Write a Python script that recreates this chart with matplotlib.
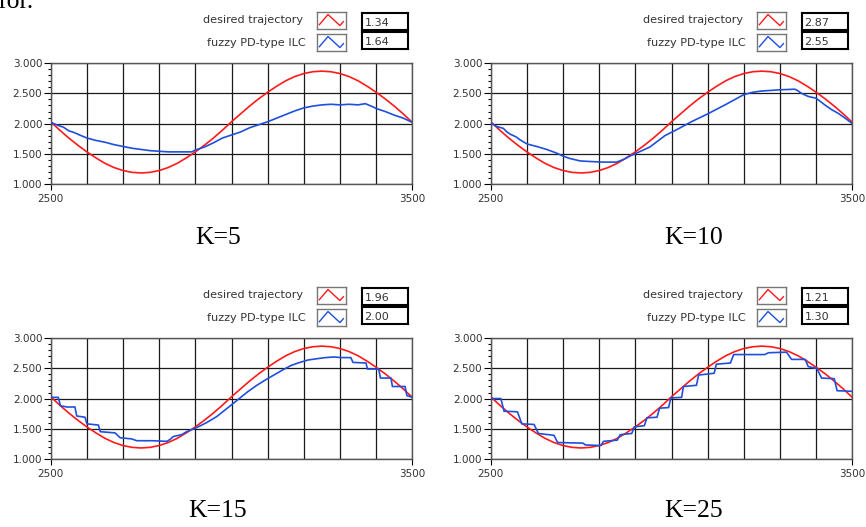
import matplotlib
matplotlib.use('Agg')
import matplotlib.pyplot as plt
from matplotlib.ticker import MultipleLocator, FormatStrFormatter

# desired trajectory (same in all four runs), read every 25 samples
x_des = [2500, 2525, 2550, 2575, 2600, 2625, 2650, 2675, 2700, 2725,
         2750, 2775, 2800, 2825, 2850, 2875, 2900, 2925, 2950, 2975,
         3000, 3025, 3050, 3075, 3100, 3125, 3150, 3175, 3200, 3225,
         3250, 3275, 3300, 3325, 3350, 3375, 3400, 3425, 3450, 3475, 3500]
y_des = [2.03, 1.89, 1.76, 1.64, 1.53, 1.43, 1.34, 1.27, 1.22, 1.19,
         1.18, 1.19, 1.22, 1.27, 1.34, 1.43, 1.53, 1.64, 1.76, 1.89,
         2.03, 2.16, 2.29, 2.41, 2.52, 2.62, 2.71, 2.78, 2.83, 2.86,
         2.87, 2.86, 2.83, 2.78, 2.71, 2.62, 2.52, 2.41, 2.29, 2.16, 2.02]

# fuzzy PD-type ILC output, K=5
k5_x = [2500, 2520, 2535, 2550, 2565, 2580, 2600, 2625, 2650, 2675, 2700,
        2725, 2750, 2775, 2800, 2825, 2850, 2875, 2890, 2900, 2925, 2950,
        2975, 3000, 3025, 3050, 3075, 3100, 3125, 3150, 3175, 3200, 3225,
        3250, 3275, 3300, 3325, 3350, 3370, 3390, 3400, 3425, 3450, 3475, 3500]
k5_y = [2.02, 1.97, 1.94, 1.88, 1.85, 1.81, 1.76, 1.72, 1.69, 1.65, 1.62,
        1.59, 1.57, 1.55, 1.54, 1.53, 1.53, 1.53, 1.53, 1.56, 1.61, 1.68,
        1.76, 1.81, 1.86, 1.93, 1.98, 2.03, 2.09, 2.15, 2.21, 2.26, 2.29,
        2.31, 2.32, 2.31, 2.32, 2.31, 2.33, 2.28, 2.25, 2.20, 2.14, 2.09, 2.02]

# K=10
k10_x = [2500, 2517, 2535, 2545, 2555, 2570, 2581, 2601, 2627, 2655, 2682,
         2700, 2719, 2747, 2774, 2811, 2848, 2866, 2885, 2900, 2940, 2982,
         3018, 3055, 3100, 3148, 3200, 3225, 3249, 3300, 3341, 3348, 3360,
         3378, 3400, 3424, 3443, 3461, 3480, 3500]
k10_y = [2.01, 1.95, 1.92, 1.86, 1.82, 1.78, 1.73, 1.66, 1.62, 1.57, 1.51,
         1.46, 1.42, 1.38, 1.37, 1.36, 1.36, 1.40, 1.46, 1.50, 1.61, 1.80,
         1.91, 2.03, 2.16, 2.31, 2.48, 2.52, 2.54, 2.56, 2.57, 2.55, 2.50,
         2.45, 2.42, 2.31, 2.23, 2.17, 2.09, 2.00]

# K=15
k15_x = [2500, 2521, 2527, 2545, 2567, 2572, 2595, 2600, 2632, 2637, 2678,
         2692, 2724, 2738, 2780, 2821, 2830, 2839, 2862, 2876, 2901, 2931,
         2959, 2980, 3005, 3042, 3070, 3097, 3120, 3143, 3165, 3189, 3212,
         3235, 3260, 3282, 3305, 3330, 3336, 3372, 3376, 3407, 3412, 3441,
         3445, 3480, 3485, 3500]
k15_y = [2.02, 2.02, 1.88, 1.86, 1.86, 1.71, 1.69, 1.58, 1.56, 1.45, 1.43,
         1.35, 1.33, 1.30, 1.30, 1.29, 1.32, 1.37, 1.40, 1.45, 1.51, 1.60,
         1.70, 1.80, 1.92, 2.10, 2.22, 2.32, 2.40, 2.48, 2.55, 2.60, 2.64,
         2.66, 2.68, 2.69, 2.68, 2.68, 2.60, 2.59, 2.49, 2.49, 2.34, 2.34,
         2.20, 2.20, 2.05, 2.02]

# K=25
k25_x = [2500, 2528, 2537, 2574, 2586, 2620, 2632, 2675, 2685, 2755, 2762,
         2805, 2812, 2850, 2858, 2890, 2897, 2925, 2932, 2960, 2967, 2992,
         2998, 3028, 3033, 3069, 3075, 3118, 3124, 3163, 3172, 3258, 3268,
         3318, 3332, 3370, 3378, 3402, 3415, 3450, 3458, 3500]
k25_y = [2.00, 2.00, 1.79, 1.78, 1.58, 1.57, 1.42, 1.39, 1.27, 1.26, 1.23,
         1.22, 1.29, 1.31, 1.40, 1.42, 1.53, 1.55, 1.68, 1.69, 1.84, 1.85,
         2.01, 2.02, 2.20, 2.22, 2.39, 2.42, 2.57, 2.59, 2.73, 2.73, 2.76,
         2.77, 2.65, 2.65, 2.53, 2.50, 2.34, 2.33, 2.13, 2.12]

k_labels = ['K=5', 'K=10', 'K=15', 'K=25']
val_desired = ['1.34', '2.87', '1.96', '1.21']
val_fuzzy = ['1.64', '2.55', '2.00', '1.30']
blue_x = [k5_x, k10_x, k15_x, k25_x]
blue_y = [k5_y, k10_y, k15_y, k25_y]

W, H = 866, 527
RED = '#ff1a1a'
BLUE = '#1f4fdc'
TXT = '#333333'


def rect(left, top, right, bottom):
    # pixel box -> figure fraction
    return [left / W, 1 - bottom / H, (right - left) / W, (bottom - top) / H]


fig = plt.figure(figsize=(W / 100, H / 100), dpi=100)

# cut-off text from the page above
fig.text(-0.002, 1 - 8 / H, 'ror.', family='Liberation Serif', fontsize=18.5,
         va='baseline', ha='left')

lefts = [50.7, 490.7]
tops = [63.3, 338.3]
pw, ph = 361.6, 120.5

for i in range(4):
    L = lefts[i % 2]
    T = tops[i // 2]
    ax = fig.add_axes(rect(L, T, L + pw, T + ph))
    ax.plot(x_des, y_des, color=RED, lw=1.2, zorder=3)
    ax.plot(blue_x[i], blue_y[i], color=BLUE, lw=1.2, zorder=4)
    ax.set_xlim(2500, 3500)
    ax.set_ylim(1.0, 3.0)

    ax.set_xticks([2500, 3500])
    ax.set_xticks(range(2600, 3500, 100), minor=True)
    ax.yaxis.set_major_locator(MultipleLocator(0.5))
    ax.yaxis.set_minor_locator(MultipleLocator(0.1))
    ax.yaxis.set_major_formatter(FormatStrFormatter('%.3f'))
    ax.tick_params(axis='x', which='major', length=4, width=0.8, pad=3,
                   labelsize=7.5, labelcolor=TXT)
    ax.tick_params(axis='x', which='minor', length=0)
    ax.tick_params(axis='y', which='major', length=5, width=0.8, pad=1,
                   labelsize=7.5, labelcolor=TXT)
    ax.tick_params(axis='y', which='minor', length=2.5, width=0.8)
    ax.grid(True, axis='x', which='both', color='#1a1a1a', lw=0.9)
    ax.grid(True, axis='y', which='major', color='#1a1a1a', lw=0.9)
    for s in ax.spines.values():
        s.set_color('#555555')
        s.set_linewidth(1.0)

    # legend: labels, plot icons, value boxes
    fig.text((L + 252) / W, 1 - (T - 43.5) / H, 'desired trajectory',
             fontsize=8.1, color=TXT, ha='right', va='center')
    fig.text((L + 255) / W, 1 - (T - 20.5) / H, 'fuzzy PD-type ILC',
             fontsize=8.1, color=TXT, ha='right', va='center')
    for row, (col, val) in enumerate([(RED, val_desired[i]), (BLUE, val_fuzzy[i])]):
        it = T - 51 + row * 22
        ic = fig.add_axes(rect(L + 266, it, L + 295, it + 17))
        ic.plot([0.09, 0.39, 0.8, 0.92], [0.27, 0.87, 0.22, 0.45], color=col, lw=1.0)
        ic.set_xlim(0, 1)
        ic.set_ylim(0, 1)
        ic.set_xticks([])
        ic.set_yticks([])
        for s in ic.spines.values():
            s.set_color('#777777')
            s.set_linewidth(1.0)
        vt = T - 50 + row * 19
        vb = fig.add_axes(rect(L + 311, vt, L + 357, vt + 17))
        vb.set_xticks([])
        vb.set_yticks([])
        for s in vb.spines.values():
            s.set_color('black')
            s.set_linewidth(1.5)
        vb.text(0.06, 0.45, val, transform=vb.transAxes, fontsize=8,
                color=TXT, ha='left', va='center')

    # K label under each chart
    kx = [218, 694][i % 2]
    ky = [238, 511][i // 2]
    fig.text(kx / W, 1 - ky / H, k_labels[i], family='Liberation Serif',
             fontsize=18.5, ha='center', va='center')

fig.savefig('out.png', dpi=100)
